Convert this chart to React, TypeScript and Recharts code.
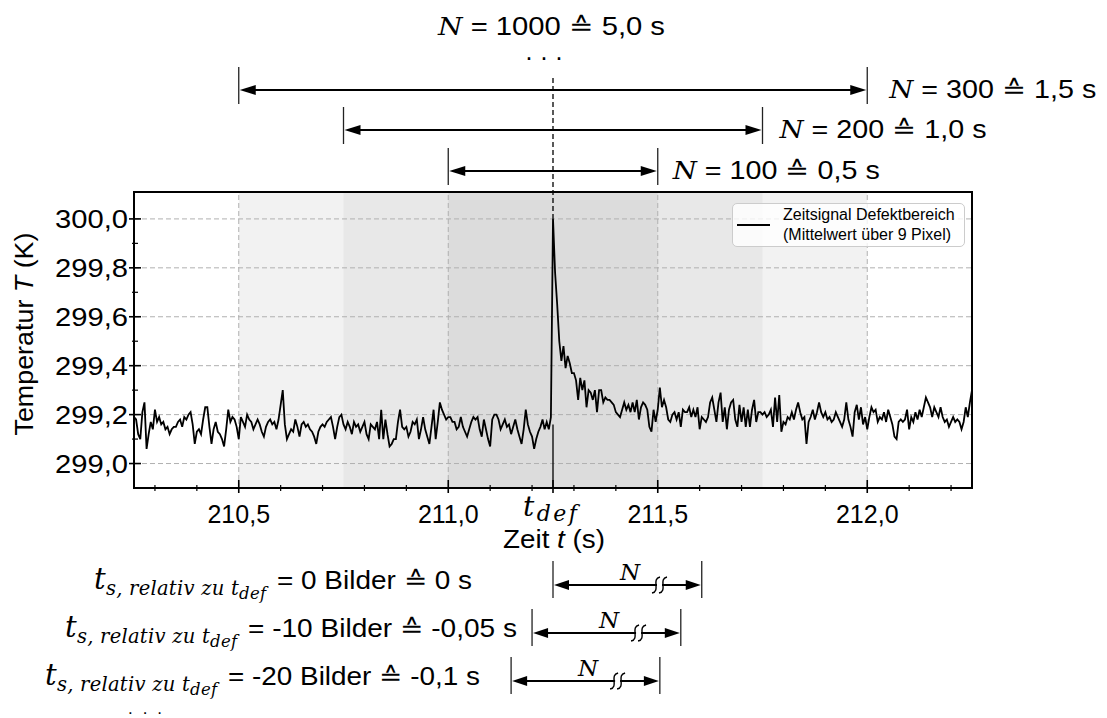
import React from 'react';
import { ComposedChart, Line, XAxis, YAxis, ReferenceArea, ReferenceLine, Legend } from 'recharts';

const SANS = "'Liberation Sans', Arial, sans-serif";
const MATH = "'DejaVu Serif', 'Liberation Serif', serif";

// Zeitsignal, 200 Hz -> 0,005 s pro Bild
const T_START = 210.25;
const FRAME_DT = 0.005;
const T_DEF = 211.25;

const tempSeg1 = [
  299.19, 299.18, 299.12, 299.10, 299.21, 299.25, 299.06, 299.12, 299.17, 299.14,
  299.22, 299.17, 299.19, 299.16, 299.17, 299.14, 299.15, 299.12, 299.14, 299.15,
  299.15, 299.17, 299.18, 299.15, 299.19, 299.18, 299.20, 299.21, 299.16, 299.08,
  299.13, 299.14, 299.12, 299.18, 299.23, 299.23, 299.15, 299.08, 299.14, 299.17,
  299.13, 299.12, 299.10, 299.07, 299.14, 299.22, 299.17, 299.19, 299.18, 299.15,
  299.10, 299.19, 299.17, 299.15, 299.20, 299.18, 299.17, 299.14, 299.16, 299.18,
  299.16, 299.13, 299.11, 299.15, 299.17, 299.18, 299.16, 299.17, 299.14, 299.18,
  299.24, 299.30, 299.16, 299.10, 299.12, 299.14, 299.13, 299.18, 299.15, 299.11,
  299.16, 299.17, 299.15, 299.16, 299.14, 299.13, 299.11, 299.08, 299.13, 299.15,
  299.16, 299.15, 299.17, 299.18, 299.19, 299.15, 299.10, 299.15, 299.19, 299.20,
];
const tempSeg2 = [
  299.16, 299.14, 299.17, 299.15, 299.12, 299.17, 299.15, 299.16, 299.13, 299.15,
  299.17, 299.12, 299.10, 299.16, 299.15, 299.14, 299.17, 299.10, 299.22, 299.10,
  299.18, 299.12, 299.07, 299.08, 299.10, 299.10, 299.17, 299.22, 299.15, 299.14,
  299.15, 299.11, 299.13, 299.17, 299.16, 299.18, 299.10, 299.14, 299.19, 299.14,
  299.11, 299.08, 299.15, 299.22, 299.10, 299.17, 299.25, 299.22, 299.20, 299.18,
  299.19, 299.19, 299.17, 299.17, 299.14, 299.15, 299.19, 299.15, 299.13, 299.11,
  299.14, 299.17, 299.19, 299.18, 299.19, 299.14, 299.11, 299.18, 299.14, 299.10,
  299.07, 299.18, 299.20, 299.20, 299.18, 299.14, 299.16, 299.18, 299.15, 299.16,
  299.12, 299.15, 299.18, 299.14, 299.11, 299.08, 299.14, 299.22, 299.16, 299.13,
  299.11, 299.06, 299.10, 299.13, 299.15, 299.18, 299.14, 299.17, 299.14, 299.19,
];
const tempSeg3 = [
  300.00, 299.78, 299.65, 299.50, 299.42, 299.48, 299.39, 299.44, 299.41, 299.37,
  299.37, 299.34, 299.26, 299.35, 299.30, 299.34, 299.23, 299.30, 299.29, 299.26,
  299.30, 299.21, 299.30, 299.30, 299.25, 299.27, 299.26, 299.26, 299.25, 299.24,
  299.21, 299.20, 299.19, 299.22, 299.25, 299.22, 299.24, 299.21, 299.25, 299.21,
  299.26, 299.18, 299.23, 299.25, 299.24, 299.22, 299.15, 299.13, 299.22, 299.17,
  299.22, 299.31, 299.23, 299.26, 299.23, 299.18, 299.17, 299.20, 299.21, 299.18,
  299.21, 299.15, 299.22, 299.21, 299.21, 299.23, 299.19, 299.22, 299.19, 299.23,
  299.14, 299.19, 299.18, 299.17, 299.19, 299.25, 299.27, 299.22, 299.17, 299.25,
  299.29, 299.17, 299.23, 299.14, 299.22, 299.25, 299.26, 299.18, 299.15, 299.24,
  299.17, 299.23, 299.15, 299.22, 299.15, 299.22, 299.26, 299.17, 299.21, 299.21,
];
const tempSeg4 = [
  299.20, 299.21, 299.19, 299.20, 299.22, 299.15, 299.27, 299.17, 299.28, 299.13,
  299.17, 299.16, 299.19, 299.18, 299.21, 299.18, 299.22, 299.25, 299.21, 299.18,
  299.19, 299.08, 299.17, 299.19, 299.22, 299.18, 299.21, 299.25, 299.21, 299.19,
  299.21, 299.18, 299.19, 299.17, 299.18, 299.21, 299.19, 299.17, 299.15, 299.18,
  299.25, 299.18, 299.15, 299.11, 299.21, 299.24, 299.18, 299.23, 299.16, 299.19,
  299.14, 299.19, 299.23, 299.21, 299.22, 299.17, 299.19, 299.18, 299.21, 299.17,
  299.22, 299.19, 299.16, 299.11, 299.10, 299.17, 299.18, 299.17, 299.18, 299.22,
  299.14, 299.19, 299.17, 299.21, 299.18, 299.22, 299.19, 299.23, 299.27, 299.25,
  299.23, 299.19, 299.23, 299.21, 299.19, 299.23, 299.19, 299.17, 299.18, 299.15,
  299.17, 299.19, 299.17, 299.18, 299.17, 299.14, 299.17, 299.23, 299.19, 299.25,
  299.30,
];

// Auswertefenster (zentriert um t_def)
const windowFrames = [300, 200, 100];
const windowSeconds = ['1,5 s', '1,0 s', '0,5 s'];
const windowFrom = [210.5, 210.75, 211.0];
const windowTo = [212.0, 211.75, 211.5];

// Startversatz relativ zu t_def
const shiftFrames = [0, -10, -20];
const shiftSeconds = [0, -0.05, -0.1];
const shiftLabels = ['0 s', '-0,05 s', '-0,1 s'];
const SHOWN_SPAN = 0.355; // dargestellte (abgeschnittene) Fensterlänge

const xMajor = [210.5, 211.0, 211.5, 212.0];
const xMinor = [210.3, 210.4, 210.6, 210.7, 210.8, 210.9, 211.1, 211.2, 211.3, 211.4, 211.6, 211.7, 211.8, 211.9, 212.1, 212.2];
const yMajor = [299.0, 299.2, 299.4, 299.6, 299.8, 300.0];
const yMinor = [299.1, 299.3, 299.5, 299.7, 299.9];

const signal = [...tempSeg1, ...tempSeg2, ...tempSeg3, ...tempSeg4].map((temp, i) => ({
  t: +(T_START + i * FRAME_DT).toFixed(3),
  temp,
}));

const X_DOMAIN: [number, number] = [210.25, 212.25];
const Y_DOMAIN: [number, number] = [298.9, 300.11];
const W = 1107;
const H = 718;
const PL = 134;
const PR = 972;
const PT = 192;
const PB = 488;
const BAND_FILLS = ['#f2f2f2', '#e8e8e8', '#dcdcdc'];
const ARROW_Y = [90, 130, 171];
const LABEL_GAP = [22, 17, 15];
const ROW_Y = [585, 633, 681];
const ROW_EQ_X = [277, 248, 228];
const ROW_TEXT_W = [195, 269, 252];

const xPx = (t: number) => PL + ((t - X_DOMAIN[0]) / (X_DOMAIN[1] - X_DOMAIN[0])) * (PR - PL);
const yPx = (v: number) => PB - ((v - Y_DOMAIN[0]) / (Y_DOMAIN[1] - Y_DOMAIN[0])) * (PB - PT);
const fmt = (v: number) => v.toFixed(1).replace('.', ',');

function XTick({ x, y, payload }: any) {
  const v = payload.value;
  const isDef = Math.abs(v - T_DEF) < 1e-6;
  const major = isDef || xMajor.some((m) => Math.abs(m - v) < 1e-6);
  return (
    <g>
      <line x1={x} x2={x} y1={y - (major ? 8 : 3)} y2={y + (major ? 5 : 3)} stroke="#000" strokeWidth={major ? 1.6 : 1.2} />
      {isDef ? (
        <text
          x={x - 3}
          y={y + 28}
          textAnchor="middle"
          fontFamily={MATH}
          fontStyle="italic"
          fill="#000"
          textLength={54}
          lengthAdjust="spacing"
        >
          <tspan fontSize={28}>t</tspan>
          <tspan fontSize={22} dy={5}>def</tspan>
        </text>
      ) : major ? (
        <text x={x} y={y + 35} textAnchor="middle" fontFamily={SANS} fontSize={25} fill="#000">
          {fmt(v)}
        </text>
      ) : null}
    </g>
  );
}

function YTick({ x, y, payload }: any) {
  const v = payload.value;
  const major = yMajor.some((m) => Math.abs(m - v) < 1e-6);
  return (
    <g>
      <line x1={x - (major ? 5 : 2)} x2={x + (major ? 7 : 4)} y1={y} y2={y} stroke="#000" strokeWidth={major ? 1.6 : 1.2} />
      {major && (
        <text
          x={x - 6}
          y={y + 9}
          textAnchor="end"
          fontFamily={SANS}
          fontSize={25}
          fill="#000"
          textLength={73}
          lengthAdjust="spacingAndGlyphs"
        >
          {fmt(v)}
        </text>
      )}
    </g>
  );
}

function LegendBox() {
  return (
    <div
      style={{
        boxSizing: 'border-box',
        width: 233,
        height: 44,
        border: '1.5px solid #cccccc',
        borderRadius: 5,
        background: 'rgba(255,255,255,0.8)',
        position: 'relative',
        fontFamily: SANS,
        fontSize: 16,
        color: '#000',
      }}
    >
      <div style={{ position: 'absolute', left: 4, top: 20, width: 33, height: 2, background: '#000' }} />
      <div style={{ position: 'absolute', left: 50, top: 1, lineHeight: '20px', whiteSpace: 'nowrap' }}>
        Zeitsignal Defektbereich
        <br />
        (Mittelwert über 9 Pixel)
      </div>
    </div>
  );
}

function SpanArrow({ x1, x2, y, up, down, head = 16, half = 5, width = 2 }: any) {
  return (
    <g>
      <line x1={x1} x2={x1} y1={y - up} y2={y + down} stroke="#222" strokeWidth={1.3} />
      <line x1={x2} x2={x2} y1={y - up} y2={y + down} stroke="#222" strokeWidth={1.3} />
      <line x1={x1 + head - 2} x2={x2 - head + 2} y1={y} y2={y} stroke="#000" strokeWidth={width} />
      <polygon points={`${x1 + 1},${y} ${x1 + 1 + head},${y - half} ${x1 + 1 + head},${y + half}`} fill="#000" />
      <polygon points={`${x2 - 1},${y} ${x2 - 1 - head},${y - half} ${x2 - 1 - head},${y + half}`} fill="#000" />
    </g>
  );
}

function BreakMark({ cx, y }: { cx: number; y: number }) {
  const s = (ox: number) => `M ${ox - 4} ${y + 8} C ${ox + 5} ${y + 6}, ${ox - 5} ${y - 6}, ${ox + 4} ${y - 8}`;
  return (
    <g fill="none" stroke="#000" strokeWidth={1.4}>
      <rect x={cx - 4} y={y - 2} width={5} height={4} fill="#fff" stroke="none" />
      <path d={s(cx - 5)} />
      <path d={s(cx + 2)} />
    </g>
  );
}

function NLabel({ x, y, value, seconds, width }: any) {
  return (
    <text x={x} y={y} fontFamily={SANS} fontSize={25} fill="#000" textLength={width} lengthAdjust="spacingAndGlyphs">
      <tspan fontFamily={MATH} fontStyle="italic" fontSize={24}>N</tspan> = {value} ≙ {seconds}
    </text>
  );
}

function Overlay() {
  const peak = Math.max(...tempSeg3);
  const xd = xPx(T_DEF);
  return (
    <svg width={W} height={H} style={{ position: 'absolute', left: 0, top: 0, pointerEvents: 'none' }}>
      <rect x={PL} y={PT} width={PR - PL} height={PB - PT} fill="none" stroke="#000" strokeWidth={2} />
      <line x1={xd} x2={xd} y1={78} y2={yPx(peak)} stroke="#000" strokeWidth={1.3} strokeDasharray="5 3" />

      <NLabel x={438} y={35} value={1000} seconds="5,0 s" width={227} />
      <text x={548} y={60} textAnchor="middle" fontFamily={SANS} fontSize={25} letterSpacing={8} fill="#000">
        ...
      </text>

      {windowFrames.map((n, i) => (
        <g key={n}>
          <SpanArrow x1={xPx(windowFrom[i])} x2={xPx(windowTo[i])} y={ARROW_Y[i]} up={23} down={14} />
          <NLabel x={xPx(windowTo[i]) + LABEL_GAP[i]} y={ARROW_Y[i] + 8} value={n} seconds={windowSeconds[i]} width={207} />
        </g>
      ))}

      <text
        transform={`translate(33,334) rotate(-90)`}
        textAnchor="middle"
        fontFamily={SANS}
        fontSize={25}
        fill="#000"
        textLength={203}
        lengthAdjust="spacingAndGlyphs"
      >
        Temperatur <tspan fontStyle="italic">T</tspan> (K)
      </text>
      <text
        x={554}
        y={548}
        textAnchor="middle"
        fontFamily={SANS}
        fontSize={25}
        fill="#000"
        textLength={102}
        lengthAdjust="spacingAndGlyphs"
      >
        Zeit <tspan fontStyle="italic">t</tspan> (s)
      </text>

      {shiftFrames.map((f, i) => {
        const a = xPx(T_DEF + shiftSeconds[i]);
        const b = xPx(T_DEF + shiftSeconds[i] + SHOWN_SPAN);
        const y = ROW_Y[i];
        return (
          <g key={f}>
            <text
              x={ROW_EQ_X[i] - 11}
              y={y + 4}
              textAnchor="end"
              fontFamily={MATH}
              fontStyle="italic"
              fill="#000"
              textLength={172}
              lengthAdjust="spacing"
            >
              <tspan fontSize={29}>t</tspan>
              <tspan fontSize={19.5} dy={6}>s, relativ zu </tspan>
              <tspan fontSize={19.5}>t</tspan>
              <tspan fontSize={16.5} dy={4}>def</tspan>
            </text>
            <text
              x={ROW_EQ_X[i]}
              y={y + 4}
              fontFamily={SANS}
              fontSize={25}
              fill="#000"
              textLength={ROW_TEXT_W[i]}
              lengthAdjust="spacingAndGlyphs"
            >
              = {f} Bilder ≙ {shiftLabels[i]}
            </text>
            <SpanArrow x1={a} x2={b} y={y} up={24} down={13} head={15} half={5} width={1.8} />
            <text x={a + 77} y={y - 5} textAnchor="middle" fontFamily={MATH} fontStyle="italic" fontSize={23} fill="#000">
              N
            </text>
            <BreakMark cx={a + 108} y={y} />
          </g>
        );
      })}
      <text x={150} y={714} textAnchor="middle" fontFamily={SANS} fontSize={17} letterSpacing={10} fill="#000">
        ...
      </text>
    </svg>
  );
}

export default function App() {
  return (
    <div style={{ position: 'absolute', left: 0, top: 0, width: W, height: H, background: '#fff', fontFamily: SANS }}>
      <ComposedChart width={W} height={H} data={signal} margin={{ top: PT, right: W - PR, bottom: 0, left: 0 }}>
        {windowFrames.map((n, i) => (
          <ReferenceArea key={n} x1={windowFrom[i]} x2={windowTo[i]} fill={BAND_FILLS[i]} fillOpacity={1} stroke="none" />
        ))}
        {yMajor.map((v) => (
          <ReferenceLine key={`h${v}`} y={v} stroke="#b0b0b0" strokeWidth={1} strokeDasharray="5 3" />
        ))}
        {xMajor.map((v) => (
          <ReferenceLine key={`v${v}`} x={v} stroke="#b0b0b0" strokeWidth={1} strokeDasharray="5 3" />
        ))}
        <ReferenceLine
          segment={[
            { x: T_DEF, y: Y_DOMAIN[0] },
            { x: T_DEF, y: tempSeg2[tempSeg2.length - 1] - 0.03 },
          ]}
          stroke="#000"
          strokeWidth={1.3}
        />
        <XAxis
          type="number"
          dataKey="t"
          domain={X_DOMAIN}
          allowDataOverflow
          ticks={[...xMinor, ...xMajor, T_DEF].sort((a, b) => a - b)}
          interval={0}
          tick={(p: any) => <XTick {...p} />}
          tickLine={false}
          axisLine={false}
          tickSize={0}
          tickMargin={0}
          height={H - PB}
        />
        <YAxis
          type="number"
          domain={Y_DOMAIN}
          allowDataOverflow
          ticks={[...yMajor, ...yMinor].sort((a, b) => a - b)}
          interval={0}
          tick={(p: any) => <YTick {...p} />}
          tickLine={false}
          axisLine={false}
          tickSize={0}
          tickMargin={0}
          width={PL}
        />
        <Line type="linear" dataKey="temp" stroke="#000" strokeWidth={1.8} dot={false} isAnimationActive={false} />
        <Legend
          layout="vertical"
          align="center"
          verticalAlign="middle"
          wrapperStyle={{ left: 732, top: 203, width: 233, height: 44 }}
          content={() => <LegendBox />}
        />
      </ComposedChart>
      <Overlay />
    </div>
  );
}
